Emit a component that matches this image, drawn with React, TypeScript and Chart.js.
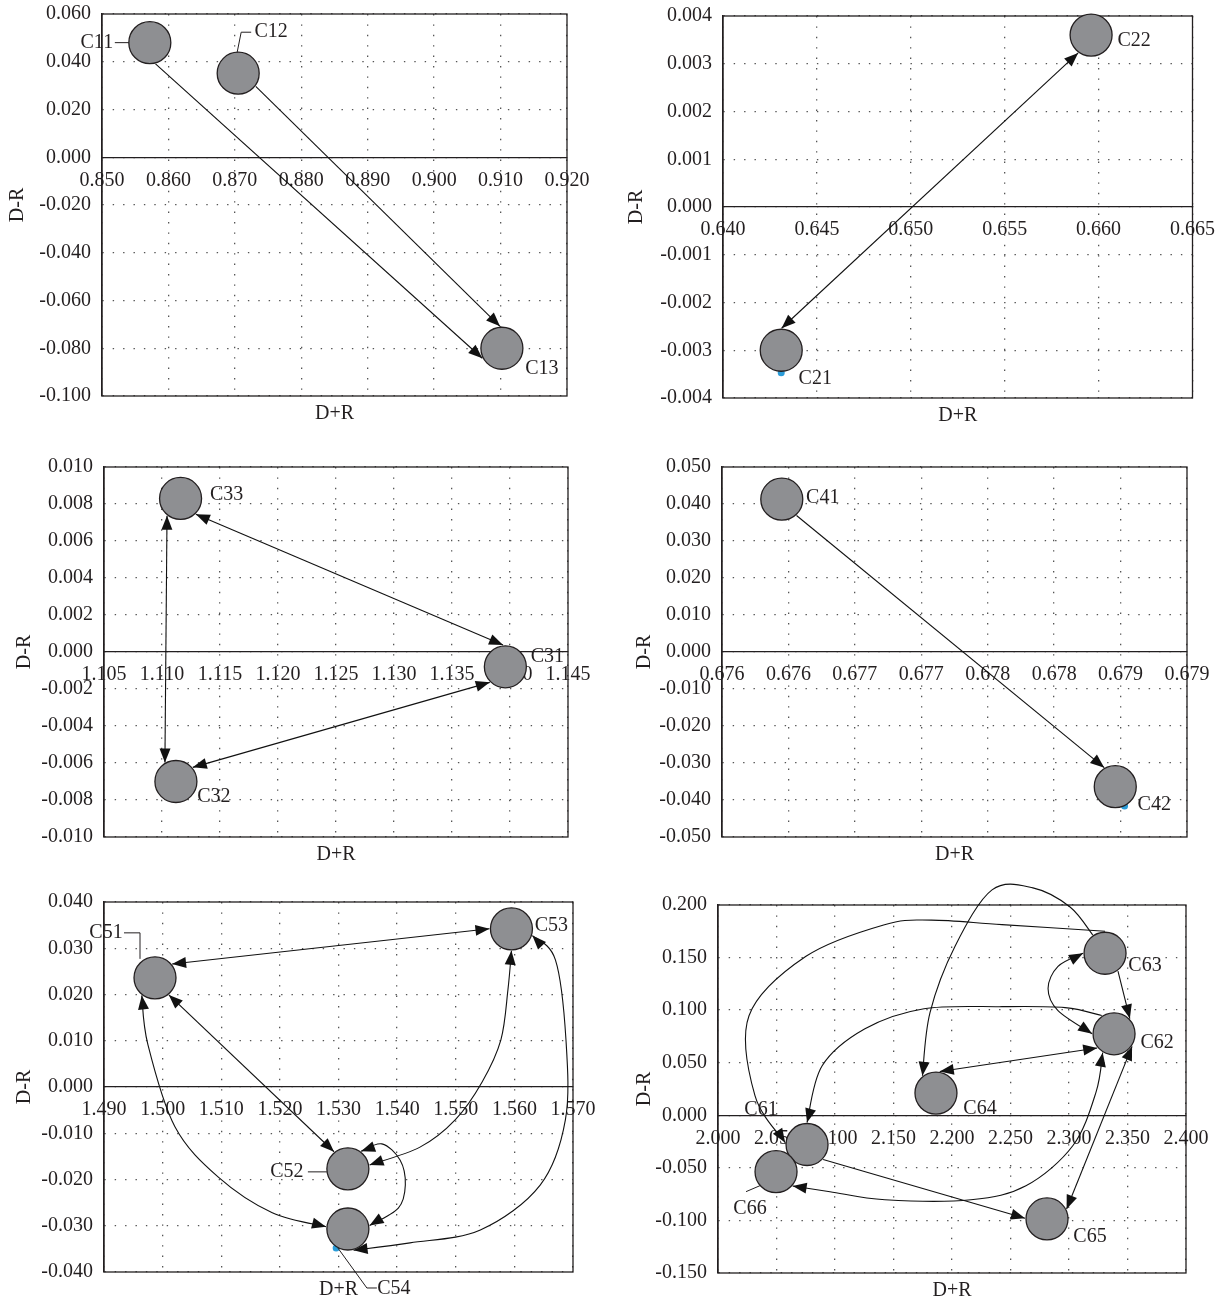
import React, { useEffect, useRef } from 'react';
import { Chart, registerables } from 'chart.js';

Chart.register(...registerables);

// ---------------- DATA ----------------
// Panel 1
const p1Names = ['C11', 'C12', 'C13'];
const p1X = [0.8572, 0.8705, 0.9102];
const p1Y = [0.048, 0.0352, -0.08];
const p1BlueX: number[] = [];
const p1BlueY: number[] = [];
const p1XTicks = ['0.850', '0.860', '0.870', '0.880', '0.890', '0.900', '0.910', '0.920'];
const p1YTicks = ['-0.100', '-0.080', '-0.060', '-0.040', '-0.020', '0.000', '0.020', '0.040', '0.060'];
const p1Links = [
  { from: 'C11', to: 'C13', both: false, a0: 75, a1: 153, via: [] as number[][] },
  { from: 'C12', to: 'C13', both: false, a0: 37, a1: -95, via: [] as number[][] },
];

// Panel 2
const p2Names = ['C21', 'C22'];
const p2X = [0.6431, 0.6596];
const p2Y = [-0.003, 0.0036];
const p2BlueX = [0.6431];
const p2BlueY = [-0.00347];
const p2XTicks = ['0.640', '0.645', '0.650', '0.655', '0.660', '0.665'];
const p2YTicks = ['-0.004', '-0.003', '-0.002', '-0.001', '0.000', '0.001', '0.002', '0.003', '0.004'];
const p2Links = [
  { from: 'C21', to: 'C22', both: true, a0: -89, a1: 126, via: [] as number[][] },
];

// Panel 3
const p3Names = ['C31', 'C32', 'C33'];
const p3X = [1.1396, 1.1112, 1.1116];
const p3Y = [-0.0008, -0.0070, 0.0083];
const p3BlueX: number[] = [];
const p3BlueY: number[] = [];
const p3XTicks = ['1.105', '1.110', '1.115', '1.120', '1.125', '1.130', '1.135', '1.140', '1.145'];
const p3YTicks = ['-0.010', '-0.008', '-0.006', '-0.004', '-0.002', '0.000', '0.002', '0.004', '0.006', '0.008', '0.010'];
const p3Links = [
  { from: 'C33', to: 'C31', both: true, a0: 46, a1: -96, via: [] as number[][] },
  { from: 'C31', to: 'C32', both: true, a0: 135, a1: -40, via: [] as number[][] },
  { from: 'C33', to: 'C32', both: true, a0: 128, a1: -120, via: [] as number[][] },
];

// Panel 4
const p4Names = ['C41', 'C42'];
const p4X = [0.67595, 0.67846];
const p4Y = [0.0413, -0.0364];
const p4BlueX = [0.67853];
const p4BlueY = [-0.0416];
const p4XTicks = ['0.676', '0.676', '0.677', '0.677', '0.678', '0.678', '0.679', '0.679'];
const p4YTicks = ['-0.050', '-0.040', '-0.030', '-0.020', '-0.010', '0.000', '0.010', '0.020', '0.030', '0.040', '0.050'];
const p4Links = [
  { from: 'C41', to: 'C42', both: false, a0: 48, a1: -120, via: [] as number[][] },
];

// Panel 5
const p5Names = ['C51', 'C52', 'C53', 'C54'];
const p5X = [1.4987, 1.5316, 1.5595, 1.5316];
const p5Y = [0.0236, -0.0177, 0.0342, -0.0307];
const p5BlueX = [1.5296];
const p5BlueY = [-0.0348];
const p5XTicks = ['1.490', '1.500', '1.510', '1.520', '1.530', '1.540', '1.550', '1.560', '1.570'];
const p5YTicks = ['-0.040', '-0.030', '-0.020', '-0.010', '0.000', '0.010', '0.020', '0.030', '0.040'];
const p5Links = [
  { from: 'C51', to: 'C53', both: true, a0: -39, a1: 180, via: [] as number[][] },
  { from: 'C51', to: 'C52', both: true, a0: 51, a1: -129, via: [] as number[][] },
  { from: 'C51', to: 'C54', both: true, a0: 127, a1: 186,
    via: [[1.4975, 0.0091], [1.5021, -0.0086], [1.5095, -0.0195], [1.5187, -0.0272]] },
  { from: 'C53', to: 'C52', both: true, a0: 90, a1: -10,
    via: [[1.5589, 0.021], [1.5577, 0.0102], [1.5545, 0.0011], [1.5499, -0.0071], [1.5439, -0.013]] },
  { from: 'C52', to: 'C54', both: true, a0: -53, a1: -9,
    via: [[1.5374, -0.0123], [1.5405, -0.0158], [1.5414, -0.0212], [1.5402, -0.0262]] },
  { from: 'C53', to: 'C54', both: true, a0: 18, a1: 75,
    via: [[1.567, 0.0275], [1.5688, 0.0102], [1.5687, -0.0071], [1.5644, -0.0212], [1.5542, -0.0309], [1.5422, -0.0337]] },
];

// Panel 6
const p6Names = ['C61', 'C62', 'C63', 'C64', 'C65', 'C66'];
const p6X = [2.0761, 2.3385, 2.3308, 2.1863, 2.2812, 2.0496];
const p6Y = [-0.0278, 0.0775, 0.1541, 0.0211, -0.0986, -0.0536];
const p6BlueX: number[] = [];
const p6BlueY: number[] = [];
const p6XTicks = ['2.000', '2.050', '2.100', '2.150', '2.200', '2.250', '2.300', '2.350', '2.400'];
const p6YTicks = ['-0.150', '-0.100', '-0.050', '0.000', '0.050', '0.100', '0.150', '0.200'];
const p6Links = [
  { from: 'C63', to: 'C62', both: false, a0: 54, a1: -44, via: [] as number[][] },
  { from: 'C62', to: 'C63', both: true, a0: 180, a1: 180,
    via: [[2.2906, 0.0995], [2.2821, 0.1206], [2.2906, 0.1416]] },
  { from: 'C64', to: 'C62', both: true, a0: -80, a1: 140, via: [] as number[][] },
  { from: 'C62', to: 'C65', both: true, a0: 35, a1: -27, via: [] as number[][] },
  { from: 'C61', to: 'C65', both: false, a0: 43, a1: 182, via: [] as number[][] },
  { from: 'C62', to: 'C66', both: true, a0: 121, a1: 41,
    via: [[2.3231, 0.022], [2.3034, -0.0287], [2.2632, -0.067], [2.2162, -0.0804], [2.1427, -0.0804], [2.0957, -0.0727]] },
  { from: 'C62', to: 'C61', both: false, a0: -124, a1: -90,
    via: [[2.2966, 0.1024], [2.2427, 0.1033], [2.1761, 0.1014], [2.1256, 0.0823], [2.0889, 0.0469]] },
  { from: 'C63', to: 'C64', both: false, a0: -124, a1: -128,
    via: [[2.3009, 0.1981], [2.2692, 0.2163], [2.2342, 0.2144], [2.2026, 0.1608], [2.1812, 0.0976]] },
  { from: 'C63', to: 'C61', both: false, a0: -90, a1: 185,
    via: [[2.2427, 0.1813], [2.1825, 0.1856], [2.1423, 0.1813], [2.0752, 0.1512], [2.0265, 0.0947], [2.0316, 0.0187]] },
];

// ---------------- LAYOUT / STYLE ----------------
type Lbl = { dx: number; dy: number; leader?: number[][] };
const p1Labels: Record<string, Lbl> = {
  C11: { dx: -53, dy: 0, leader: [[-35, 0], [-21, 0]] },
  C12: { dx: 33, dy: -41, leader: [[13, -41], [3, -41], [-1, -21]] },
  C13: { dx: 40, dy: 20 },
};
const p2Labels: Record<string, Lbl> = { C21: { dx: 34, dy: 28 }, C22: { dx: 43, dy: 6 } };
const p3Labels: Record<string, Lbl> = { C31: { dx: 42, dy: -10 }, C32: { dx: 38, dy: 15 }, C33: { dx: 46, dy: -4 } };
const p4Labels: Record<string, Lbl> = { C41: { dx: 41, dy: -1 }, C42: { dx: 39, dy: 18 } };
const p5Labels: Record<string, Lbl> = {
  C51: { dx: -49, dy: -45, leader: [[-31, -45], [-15, -45], [-15, -19]] },
  C52: { dx: -61, dy: 3, leader: [[-40, 3], [-21, 3]] },
  C53: { dx: 40, dy: -3 },
  C54: { dx: 46, dy: 60, leader: [[-10, 19], [19, 59], [29, 59]] },
};
const p6Labels: Record<string, Lbl> = {
  C61: { dx: -46, dy: -35 },
  C62: { dx: 43, dy: 9 },
  C63: { dx: 40, dy: 12 },
  C64: { dx: 44, dy: 16 },
  C65: { dx: 43, dy: 18 },
  C66: { dx: -26, dy: 37, leader: [[-30, 20], [-16, 14]] },
};

const FONT = '"Liberation Serif", "Times New Roman", serif';
const FSIZE = 20;
const INK = '#231f20';
const BUBBLE = '#8e8f92';
const BLUE = '#2b9cd8';

type Panel = {
  names: string[]; xs: number[]; ys: number[]; bx: number[]; by: number[];
  xMin: number; xMax: number; yMin: number; yMax: number;
  xTicks: string[]; yTicks: string[];
  links: { from: string; to: string; both: boolean; a0: number; a1: number; via: number[][] }[];
  labels: Record<string, Lbl>;
  canvas: { x: number; y: number; w: number; h: number };
  area: { l: number; t: number; r: number; b: number };
  yTitleX: number;
};

const panels: Panel[] = [
  { names: p1Names, xs: p1X, ys: p1Y, bx: p1BlueX, by: p1BlueY, xMin: 0.85, xMax: 0.92, yMin: -0.1, yMax: 0.06,
    xTicks: p1XTicks, yTicks: p1YTicks, links: p1Links, labels: p1Labels,
    canvas: { x: 0, y: -24, w: 613, h: 464 }, area: { l: 102, t: 14, r: 567, b: 396 }, yTitleX: 18 },
  { names: p2Names, xs: p2X, ys: p2Y, bx: p2BlueX, by: p2BlueY, xMin: 0.64, xMax: 0.665, yMin: -0.004, yMax: 0.004,
    xTicks: p2XTicks, yTicks: p2YTicks, links: p2Links, labels: p2Labels,
    canvas: { x: 613, y: -24, w: 613, h: 464 }, area: { l: 723, t: 16, r: 1195, b: 398 }, yTitleX: 637 },
  { names: p3Names, xs: p3X, ys: p3Y, bx: p3BlueX, by: p3BlueY, xMin: 1.105, xMax: 1.145, yMin: -0.01, yMax: 0.01,
    xTicks: p3XTicks, yTicks: p3YTicks, links: p3Links, labels: p3Labels,
    canvas: { x: 0, y: 436, w: 613, h: 439 }, area: { l: 104, t: 467, r: 568, b: 837 }, yTitleX: 25 },
  { names: p4Names, xs: p4X, ys: p4Y, bx: p4BlueX, by: p4BlueY, xMin: 0.6755, xMax: 0.679, yMin: -0.05, yMax: 0.05,
    xTicks: p4XTicks, yTicks: p4YTicks, links: p4Links, labels: p4Labels,
    canvas: { x: 613, y: 436, w: 613, h: 439 }, area: { l: 722, t: 467, r: 1187, b: 837 }, yTitleX: 645 },
  { names: p5Names, xs: p5X, ys: p5Y, bx: p5BlueX, by: p5BlueY, xMin: 1.49, xMax: 1.57, yMin: -0.04, yMax: 0.04,
    xTicks: p5XTicks, yTicks: p5YTicks, links: p5Links, labels: p5Labels,
    canvas: { x: 0, y: 872, w: 613, h: 431 }, area: { l: 104, t: 902, r: 573, b: 1272 }, yTitleX: 25 },
  { names: p6Names, xs: p6X, ys: p6Y, bx: p6BlueX, by: p6BlueY, xMin: 2.0, xMax: 2.4, yMin: -0.15, yMax: 0.2,
    xTicks: p6XTicks, yTicks: p6YTicks, links: p6Links, labels: p6Labels,
    canvas: { x: 613, y: 872, w: 613, h: 431 }, area: { l: 718, t: 905, r: 1186, b: 1273 }, yTitleX: 645 },
];

function evenTicks(min: number, max: number, n: number) {
  const out: { value: number }[] = [];
  for (let i = 0; i < n; i++) out.push({ value: min + ((max - min) * i) / (n - 1) });
  return out;
}

function arrowHead(ctx: CanvasRenderingContext2D, tip: number[], from: number[]) {
  const ang = Math.atan2(tip[1] - from[1], tip[0] - from[0]);
  const len = 14;
  const hw = 5.5;
  const bx = tip[0] - len * Math.cos(ang);
  const by = tip[1] - len * Math.sin(ang);
  ctx.beginPath();
  ctx.moveTo(tip[0], tip[1]);
  ctx.lineTo(bx + hw * Math.sin(ang), by - hw * Math.cos(ang));
  ctx.lineTo(bx - hw * Math.sin(ang), by + hw * Math.cos(ang));
  ctx.closePath();
  ctx.fill();
}

function strokeSpline(ctx: CanvasRenderingContext2D, pts: number[][]) {
  ctx.beginPath();
  ctx.moveTo(pts[0][0], pts[0][1]);
  if (pts.length === 2) {
    ctx.lineTo(pts[1][0], pts[1][1]);
  } else {
    for (let i = 0; i < pts.length - 1; i++) {
      const p0 = pts[Math.max(0, i - 1)];
      const p1 = pts[i];
      const p2 = pts[i + 1];
      const p3 = pts[Math.min(pts.length - 1, i + 2)];
      const c1x = p1[0] + (p2[0] - p0[0]) / 6;
      const c1y = p1[1] + (p2[1] - p0[1]) / 6;
      const c2x = p2[0] - (p3[0] - p1[0]) / 6;
      const c2y = p2[1] - (p3[1] - p1[1]) / 6;
      ctx.bezierCurveTo(c1x, c1y, c2x, c2y, p2[0], p2[1]);
    }
  }
  ctx.stroke();
}

function makePlugin(p: Panel) {
  return {
    id: 'annot',
    beforeDatasetsDraw(chart: any) {
      const ctx = chart.ctx as CanvasRenderingContext2D;
      const a = chart.chartArea;
      ctx.save();
      ctx.strokeStyle = INK;
      ctx.lineWidth = 1.3;
      ctx.strokeRect(a.left, a.top, a.right - a.left, a.bottom - a.top);
      ctx.restore();
    },
    afterDatasetsDraw(chart: any) {
      const ctx = chart.ctx as CanvasRenderingContext2D;
      const sx = chart.scales.x;
      const sy = chart.scales.y;
      const a = chart.chartArea;
      const center = (name: string) => {
        const i = p.names.indexOf(name);
        return [sx.getPixelForValue(p.xs[i]), sy.getPixelForValue(p.ys[i])];
      };
      const R = 22;
      ctx.save();
      ctx.strokeStyle = '#111';
      ctx.fillStyle = '#111';
      ctx.lineWidth = 1.1;
      p.links.forEach((lk) => {
        const c0 = center(lk.from);
        const c1 = center(lk.to);
        const s = [c0[0] + R * Math.cos((lk.a0 * Math.PI) / 180), c0[1] + R * Math.sin((lk.a0 * Math.PI) / 180)];
        const e = [c1[0] + R * Math.cos((lk.a1 * Math.PI) / 180), c1[1] + R * Math.sin((lk.a1 * Math.PI) / 180)];
        const mids = lk.via.map((v) => [sx.getPixelForValue(v[0]), sy.getPixelForValue(v[1])]);
        const pts = [s, ...mids, e];
        strokeSpline(ctx, pts);
        arrowHead(ctx, e, pts[pts.length - 2]);
        if (lk.both) arrowHead(ctx, s, pts[1]);
      });
      ctx.restore();

      // labels and leaders
      ctx.save();
      ctx.font = `${FSIZE}px ${FONT}`;
      ctx.fillStyle = INK;
      ctx.strokeStyle = INK;
      ctx.lineWidth = 1;
      ctx.textAlign = 'center';
      ctx.textBaseline = 'middle';
      p.names.forEach((n) => {
        const L = p.labels[n];
        if (!L) return;
        const c = center(n);
        if (L.leader) {
          ctx.beginPath();
          L.leader.forEach((q, k) => {
            if (k === 0) ctx.moveTo(c[0] + q[0], c[1] + q[1]);
            else ctx.lineTo(c[0] + q[0], c[1] + q[1]);
          });
          ctx.stroke();
        }
        ctx.fillText(n, c[0] + L.dx, c[1] + L.dy);
      });
      // x axis title
      ctx.fillText('D+R', (a.left + a.right) / 2, a.bottom + 18);
      ctx.restore();
    },
  };
}

function makeConfig(p: Panel): any {
  const L = p.area.l - p.canvas.x;
  const T = p.area.t - p.canvas.y;
  const Rr = p.area.r - p.canvas.x;
  const B = p.area.b - p.canvas.y;
  const lineH = FSIZE * 1.2;
  const padLeft = p.yTitleX - p.canvas.x - lineH / 2;
  const yWidth = L - padLeft;
  const font = { family: FONT, size: FSIZE };
  const gridCommon = { color: '#555', lineWidth: 1.3, drawTicks: false };
  return {
    type: 'scatter',
    data: {
      datasets: [
        {
          data: p.xs.map((x, i) => ({ x, y: p.ys[i] })),
          pointRadius: 21,
          pointHoverRadius: 21,
          backgroundColor: BUBBLE,
          borderColor: INK,
          borderWidth: 1.3,
          clip: false,
        },
        {
          data: p.bx.map((x, i) => ({ x, y: p.by[i] })),
          pointRadius: 3.5,
          pointHoverRadius: 3.5,
          backgroundColor: BLUE,
          borderWidth: 0,
          clip: false,
        },
      ],
    },
    options: {
      responsive: false,
      maintainAspectRatio: false,
      animation: false,
      events: [],
      layout: { padding: { left: padLeft, top: T, right: p.canvas.w - Rr, bottom: p.canvas.h - B } },
      plugins: { legend: { display: false }, tooltip: { enabled: false }, title: { display: false } },
      scales: {
        x: {
          type: 'linear',
          axis: 'x',
          position: { y: 0 },
          min: p.xMin,
          max: p.xMax,
          afterBuildTicks: (s: any) => { s.ticks = evenTicks(p.xMin, p.xMax, p.xTicks.length); },
          ticks: {
            autoSkip: false, maxRotation: 0, minRotation: 0, padding: 11, font, color: INK,
            callback: (_v: any, i: number) => p.xTicks[i],
          },
          grid: gridCommon,
          border: { display: true, color: INK, width: 1.3, dash: [1.4, 9] },
        },
        y: {
          type: 'linear',
          position: 'left',
          min: p.yMin,
          max: p.yMax,
          afterBuildTicks: (s: any) => { s.ticks = evenTicks(p.yMin, p.yMax, p.yTicks.length); },
          afterFit: (s: any) => { s.width = yWidth; },
          ticks: {
            autoSkip: false, padding: 11, font, color: INK,
            callback: (_v: any, i: number) => p.yTicks[i],
          },
          grid: gridCommon,
          border: { display: true, color: INK, width: 1.3, dash: [1.4, 9] },
          title: { display: true, text: 'D-R', font, color: INK, padding: 0 },
        },
      },
    },
    plugins: [makePlugin(p)],
  };
}

function PanelChart({ p }: { p: Panel }) {
  const ref = useRef<HTMLCanvasElement | null>(null);
  useEffect(() => {
    if (!ref.current) return;
    const chart = new Chart(ref.current, makeConfig(p));
    return () => chart.destroy();
  }, [p]);
  return (
    <canvas
      ref={ref}
      width={p.canvas.w}
      height={p.canvas.h}
      style={{ position: 'absolute', left: p.canvas.x, top: p.canvas.y, width: p.canvas.w, height: p.canvas.h }}
    />
  );
}

export default function App() {
  return (
    <div style={{ position: 'absolute', left: 0, top: 0, width: 1226, height: 1303, background: '#fff', overflow: 'hidden' }}>
      {panels.map((p, i) => (
        <PanelChart key={i} p={p} />
      ))}
    </div>
  );
}
